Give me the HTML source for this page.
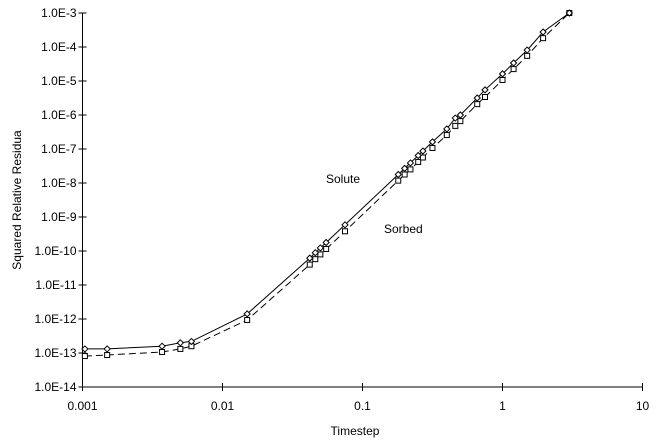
<!DOCTYPE html>
<html><head><meta charset="utf-8"><style>
body{margin:0;background:#fff}
svg{display:block;font-family:"Liberation Sans",Arial,sans-serif;font-size:12px}
</style></head><body>
<svg id="chart" width="664" height="443" viewBox="0 0 664 443">
<g id="axes"></g>
<g id="series"></g>
<text x="326" y="183">Solute</text>
<text x="384" y="233">Sorbed</text>
<text x="355" y="435" text-anchor="middle">Timestep</text>
<text transform="translate(21,200) rotate(-90)" text-anchor="middle">Squared Relative Residua</text>
</svg>
<script>
const xTicks=[0.001,0.01,0.1,1,10];
const xTickLabels=["0.001","0.01","0.1","1","10"];
const yTickExps=[-3,-4,-5,-6,-7,-8,-9,-10,-11,-12,-13,-14];
const yTickLabels=["1.0E-3","1.0E-4","1.0E-5","1.0E-6","1.0E-7","1.0E-8","1.0E-9","1.0E-10","1.0E-11","1.0E-12","1.0E-13","1.0E-14"];
const soluteX=[0.00104,0.0015,0.0037,0.005,0.006,0.015,0.042,0.046,0.05,0.055,0.075,0.18,0.2,0.22,0.25,0.27,0.316,0.4,0.46,0.5,0.66,0.75,1,1.2,1.5,1.95,3.0];
const soluteLogY=[-12.88,-12.88,-12.8,-12.7,-12.66,-11.85,-10.21,-10.05,-9.91,-9.75,-9.23,-7.75,-7.57,-7.41,-7.19,-7.06,-6.79,-6.41,-6.09,-6.0,-5.5,-5.26,-4.79,-4.47,-4.09,-3.56,-3.0];
const sorbedX=[0.00104,0.0015,0.0037,0.005,0.006,0.015,0.042,0.046,0.05,0.055,0.075,0.18,0.2,0.22,0.25,0.27,0.316,0.4,0.46,0.5,0.66,0.75,1,1.2,1.5,1.95,3.0];
const sorbedLogY=[-13.09,-13.06,-12.97,-12.88,-12.8,-12.03,-10.4,-10.24,-10.1,-9.94,-9.42,-7.93,-7.75,-7.6,-7.38,-7.25,-6.97,-6.59,-6.32,-6.18,-5.68,-5.47,-4.97,-4.65,-4.26,-3.74,-3.0];
const NS="http://www.w3.org/2000/svg";
const X0=82.5,XD=140,Y0=387,YD=34;
function xs(v){return X0+(Math.log10(v)+3)*XD;}
function ys(e){return Y0-(e+14)*YD;}
function mk(t,a,p){const e=document.createElementNS(NS,t);for(const k in a)e.setAttribute(k,a[k]);p.appendChild(e);return e;}
const ax=document.getElementById('axes');
let l=mk('line',{x1:X0,y1:ys(-3),x2:X0,y2:Y0,stroke:'#000'},ax);


l=mk('line',{x1:X0,y1:Y0,x2:xs(10),y2:Y0,stroke:'#000'},ax);


yTickExps.forEach((e,i)=>{
 const y=ys(e);
 const t=mk('line',{x1:X0-4,y1:y,x2:X0+4,y2:y,stroke:'#000'},ax);
 
 
 const tx=mk('text',{x:X0-6,y:y+4,'text-anchor':'end'},ax);tx.textContent=yTickLabels[i];
 
 
});
xTicks.forEach((v,i)=>{
 const x=xs(v);
 const t=mk('line',{x1:x,y1:Y0-4,x2:x,y2:Y0+4,stroke:'#000'},ax);
 
 
 const tx=mk('text',{x:x,y:Y0+23,'text-anchor':'middle'},ax);tx.textContent=xTickLabels[i];
 
 
});
const sg=document.getElementById('series');
function draw(X,Y,name,dash,marker){
 const pts=X.map((v,i)=>xs(v).toFixed(1)+','+ys(Y[i]).toFixed(1)).join(' ');
 const pl=mk('polyline',{points:pts,fill:'none',stroke:'#000','stroke-width':1,'stroke-dasharray':dash},sg);
 
 
 X.forEach((v,i)=>{
  const x=xs(v),y=ys(Y[i]);let m;
  if(marker==='diamond')m=mk('polygon',{points:`${x},${y-3} ${x+3},${y} ${x},${y+3} ${x-3},${y}`,fill:'#fff',stroke:'#000'},sg);
  else m=mk('rect',{x:x-2.5,y:y-2.5,width:5,height:5,fill:'#fff',stroke:'#000'},sg);
  
  
 });
}
draw(sorbedX,sorbedLogY,'sorbed','7,4','square');
draw(soluteX,soluteLogY,'solute','none','diamond');
</script>
</body></html>
